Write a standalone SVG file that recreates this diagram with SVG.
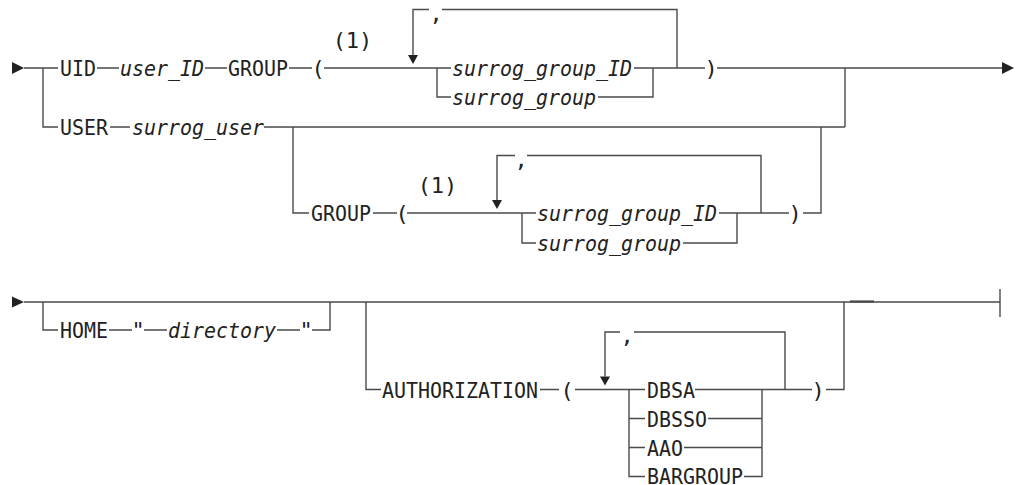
<svg xmlns="http://www.w3.org/2000/svg" width="1016" height="485" viewBox="0 0 1016 485">
<style>
.t{font-family:"DejaVu Sans Mono","Liberation Mono",monospace;font-size:22px;fill:#222}
.i{font-style:italic}
.m{text-anchor:middle}
.c path{fill:none;stroke:#4a4a4a;stroke-width:1.4}
.c path.a{fill:#222;stroke:none}
</style>
<rect width="1016" height="485" fill="#fff"/>
<g id="connectors" class="c">
<path d="M24 68H58M43 68V127H58M97 68H119M205 68H227M289 68H312M324 68H451M437 68V97H451M598 97H653V68M634 68H705M717 68H1002"/>
<path d="M677 68V9.5H442M429 9.5H413V55"/>
<path d="M845 68V127"/>
<path d="M110 127H130M264 127H845M293 127V213H309M803 213H821V127"/>
<path d="M373 213H397M407 213H536M522 213V243H536M683 243H737V213M719 213H789"/>
<path d="M761 213V155.5H527M515 155.5H497V200"/>
<path d="M24 302H1000M1000 289V317"/>
<path d="M850 301.5H874" style="stroke-width:2.2"/>
<path d="M43 302V330H58M109 330H132M144 330H167M277 330H300M312 330H330V302"/>
<path d="M366 302V389.5H381M540 389.5H559M575 389.5H645M629 389.5V476.5H645M629 418.5H645M629 447.5H645M695 389.5H812M708 418.5H762M684 447.5H762M744 476.5H762V389.5M826 389.5H844V302"/>
<path d="M785 389.5V332H634M620 332H605V376.5"/>
<path class="a" d="M12 62L24 68L12 74Z"/>
<path class="a" d="M1002 62L1014 68L1002 74Z"/>
<path class="a" d="M12 296.5L24 302L12 307.5Z"/>
<path class="a" d="M408 55H418L413 64Z"/>
<path class="a" d="M492 200H502L497 209Z"/>
<path class="a" d="M600 376.5H610L605 385.5Z"/>
</g>
<g id="n-uid"><text class="t" x="60" y="76" textLength="36" lengthAdjust="spacingAndGlyphs">UID</text></g>
<g id="n-user_id"><text class="t i" x="120" y="76" textLength="84" lengthAdjust="spacingAndGlyphs">user_ID</text></g>
<g id="n-group1"><text class="t" x="228" y="76" textLength="60" lengthAdjust="spacingAndGlyphs">GROUP</text></g>
<g id="n-lp1"><text class="t m" x="318" y="76">(</text></g>
<g id="n-note1"><text class="t m" x="352.5" y="48">(1)</text></g>
<g id="n-comma1"><text class="t m" x="436" y="20.5">,</text></g>
<g id="n-sgid1"><text class="t i" x="452" y="76" textLength="180" lengthAdjust="spacingAndGlyphs">surrog_group_ID</text></g>
<g id="n-sg1"><text class="t i" x="452" y="105" textLength="144" lengthAdjust="spacingAndGlyphs">surrog_group</text></g>
<g id="n-rp1"><text class="t m" x="711" y="76">)</text></g>
<g id="n-user"><text class="t" x="60" y="135" textLength="48" lengthAdjust="spacingAndGlyphs">USER</text></g>
<g id="n-surrog_user"><text class="t i" x="132" y="135" textLength="132" lengthAdjust="spacingAndGlyphs">surrog_user</text></g>
<g id="n-group2"><text class="t" x="311" y="221" textLength="60" lengthAdjust="spacingAndGlyphs">GROUP</text></g>
<g id="n-lp2"><text class="t m" x="402" y="221">(</text></g>
<g id="n-note2"><text class="t m" x="437.5" y="193">(1)</text></g>
<g id="n-comma2"><text class="t m" x="521" y="166.5">,</text></g>
<g id="n-sgid2"><text class="t i" x="537" y="221" textLength="180" lengthAdjust="spacingAndGlyphs">surrog_group_ID</text></g>
<g id="n-sg2"><text class="t i" x="537" y="251" textLength="144" lengthAdjust="spacingAndGlyphs">surrog_group</text></g>
<g id="n-rp2"><text class="t m" x="795" y="221">)</text></g>
<g id="n-home"><text class="t" x="60" y="338" textLength="48" lengthAdjust="spacingAndGlyphs">HOME</text></g>
<g id="n-q1"><text class="t m" x="138" y="338">"</text></g>
<g id="n-directory"><text class="t i" x="168" y="338" textLength="108" lengthAdjust="spacingAndGlyphs">directory</text></g>
<g id="n-q2"><text class="t m" x="306" y="338">"</text></g>
<g id="n-auth"><text class="t" x="382" y="397.5" textLength="156" lengthAdjust="spacingAndGlyphs">AUTHORIZATION</text></g>
<g id="n-lp3"><text class="t m" x="567" y="397.5">(</text></g>
<g id="n-comma3"><text class="t m" x="627" y="343">,</text></g>
<g id="n-dbsa"><text class="t" x="647" y="397.5" textLength="48" lengthAdjust="spacingAndGlyphs">DBSA</text></g>
<g id="n-dbsso"><text class="t" x="647" y="426.5" textLength="60" lengthAdjust="spacingAndGlyphs">DBSSO</text></g>
<g id="n-aao"><text class="t" x="647" y="455.5" textLength="36" lengthAdjust="spacingAndGlyphs">AAO</text></g>
<g id="n-bargroup"><text class="t" x="647" y="484" textLength="96" lengthAdjust="spacingAndGlyphs">BARGROUP</text></g>
<g id="n-rp3"><text class="t m" x="818" y="397.5">)</text></g>
</svg>
